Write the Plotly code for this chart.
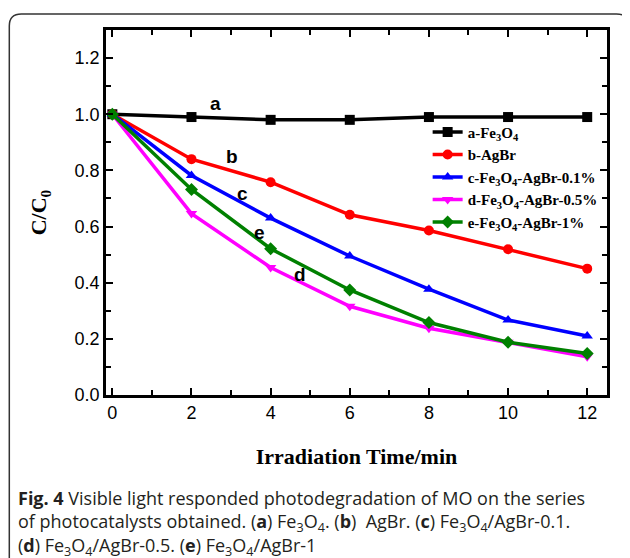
import plotly.graph_objects as go

# irradiation time (min)
time_min = [0, 2, 4, 6, 8, 10, 12]

# C/C0 for each sample
fe3o4 = [1.00, 0.99, 0.98, 0.98, 0.99, 0.99, 0.99]
agbr = [1.00, 0.84, 0.758, 0.642, 0.586, 0.519, 0.45]
fe3o4_agbr_01 = [1.00, 0.782, 0.63, 0.495, 0.377, 0.267, 0.21]
fe3o4_agbr_05 = [1.00, 0.646, 0.454, 0.316, 0.238, 0.188, 0.136]
fe3o4_agbr_1 = [1.00, 0.732, 0.521, 0.374, 0.258, 0.188, 0.148]

series_names = [
    '<b>a-Fe<sub>3</sub>O<sub>4</sub></b>',
    '<b>b-AgBr</b>',
    '<b>c-Fe<sub>3</sub>O<sub>4</sub>-AgBr-0.1%</b>',
    '<b>d-Fe<sub>3</sub>O<sub>4</sub>-AgBr-0.5%</b>',
    '<b>e-Fe<sub>3</sub>O<sub>4</sub>-AgBr-1%</b>',
]
series_values = [fe3o4, agbr, fe3o4_agbr_01, fe3o4_agbr_05, fe3o4_agbr_1]
series_colors = ['#000000', '#ff0000', '#0000ff', '#ff00ff', '#008000']
series_symbols = ['square', 'circle', 'triangle-up', 'triangle-down', 'diamond']

# curve labels placed next to the lines
curve_letters = ['a', 'b', 'c', 'e', 'd']
letter_x = [2.6, 3.03, 3.28, 3.72, 4.75]
letter_y = [1.037, 0.851, 0.717, 0.58, 0.429]

fig = go.Figure()
for name, vals, color, sym in zip(series_names, series_values, series_colors, series_symbols):
    fig.add_trace(go.Scatter(
        x=time_min,
        y=vals,
        name=name,
        mode='lines+markers',
        line=dict(color=color, width=3.5),
        marker=dict(symbol=sym, size=10, color=color),
    ))

for letter, lx, ly in zip(curve_letters, letter_x, letter_y):
    fig.add_annotation(
        x=lx, y=ly, text=f'<b>{letter}</b>', showarrow=False,
        font=dict(family='Liberation Sans, Arial', size=19, color='#000000'),
    )

axis_style = dict(
    showline=True, linecolor='#000000', linewidth=2.5, mirror='allticks',
    ticks='inside', ticklen=7, tickwidth=2, tickcolor='#000000',
    showgrid=False, zeroline=False, automargin=False,
    tickfont=dict(family='Liberation Sans, Arial', size=18, color='#000000'),
)

fig.update_xaxes(
    range=[-0.16, 12.5], tickvals=time_min,
    minor=dict(ticks='inside', ticklen=5, tickwidth=2, tickcolor='#000000', dtick=1, tick0=0),
    title=dict(text='<b>Irradiation Time/min</b>', standoff=27,
               font=dict(family='Liberation Serif, Times New Roman', size=22, color='#000000')),
    **axis_style,
)
fig.update_yaxes(
    range=[0, 1.3], dtick=0.2, tickformat='.1f',
    minor=dict(ticks='inside', ticklen=5, tickwidth=2, tickcolor='#000000', dtick=0.1, tick0=0),
    title=dict(text='<b>C/C<sub>0</sub></b>', standoff=22,
               font=dict(family='Liberation Serif, Times New Roman', size=22, color='#000000')),
    **axis_style,
)

caption = (
    '<b>Fig. 4</b> Visible light responded photodegradation of MO on the series<br>'
    'of photocatalysts obtained. (<b>a</b>) Fe<sub>3</sub>O<sub>4</sub>. (<b>b</b>)  AgBr. '
    '(<b>c</b>) Fe<sub>3</sub>O<sub>4</sub>/AgBr-0.1.<br>'
    '(<b>d</b>) Fe<sub>3</sub>O<sub>4</sub>/AgBr-0.5. (<b>e</b>) Fe<sub>3</sub>O<sub>4</sub>/AgBr-1'
)
fig.add_annotation(
    xref='paper', yref='paper', x=-0.18, y=-0.244, xanchor='left', yanchor='top',
    text=caption, showarrow=False, align='left',
    font=dict(family='Open Sans, Noto Sans', size=18, color='#231f20'),
)

# rounded frame around figure (paper coordinates)
x0, x1, yt, yb = -0.193, 1.043, 1.044, -0.5
rx, ry = 0.024, 0.033
frame_path = (
    f'M {x0},{yb} L {x0},{yt - ry} Q {x0},{yt} {x0 + rx},{yt} '
    f'L {x1 - rx},{yt} Q {x1},{yt} {x1},{yt - ry} L {x1},{yb}'
)
fig.add_shape(type='path', xref='paper', yref='paper', path=frame_path,
              line=dict(color='#333333', width=1.5))

# page body adds an 8px offset, so margins are shifted up/left by 8px
fig.update_layout(
    width=630, height=558,
    margin=dict(l=98, r=31, t=22, b=171),
    plot_bgcolor='#ffffff', paper_bgcolor='#ffffff',
    font=dict(family='Liberation Sans, Arial', color='#000000'),
    showlegend=True,
    legend=dict(
        x=0.642, y=0.765, xanchor='left', yanchor='top',
        bgcolor='rgba(0,0,0,0)', itemwidth=30, tracegroupgap=0,
        font=dict(family='Liberation Serif, Times New Roman', size=15, color='#000000'),
    ),
)

fig.write_html('out.html')
